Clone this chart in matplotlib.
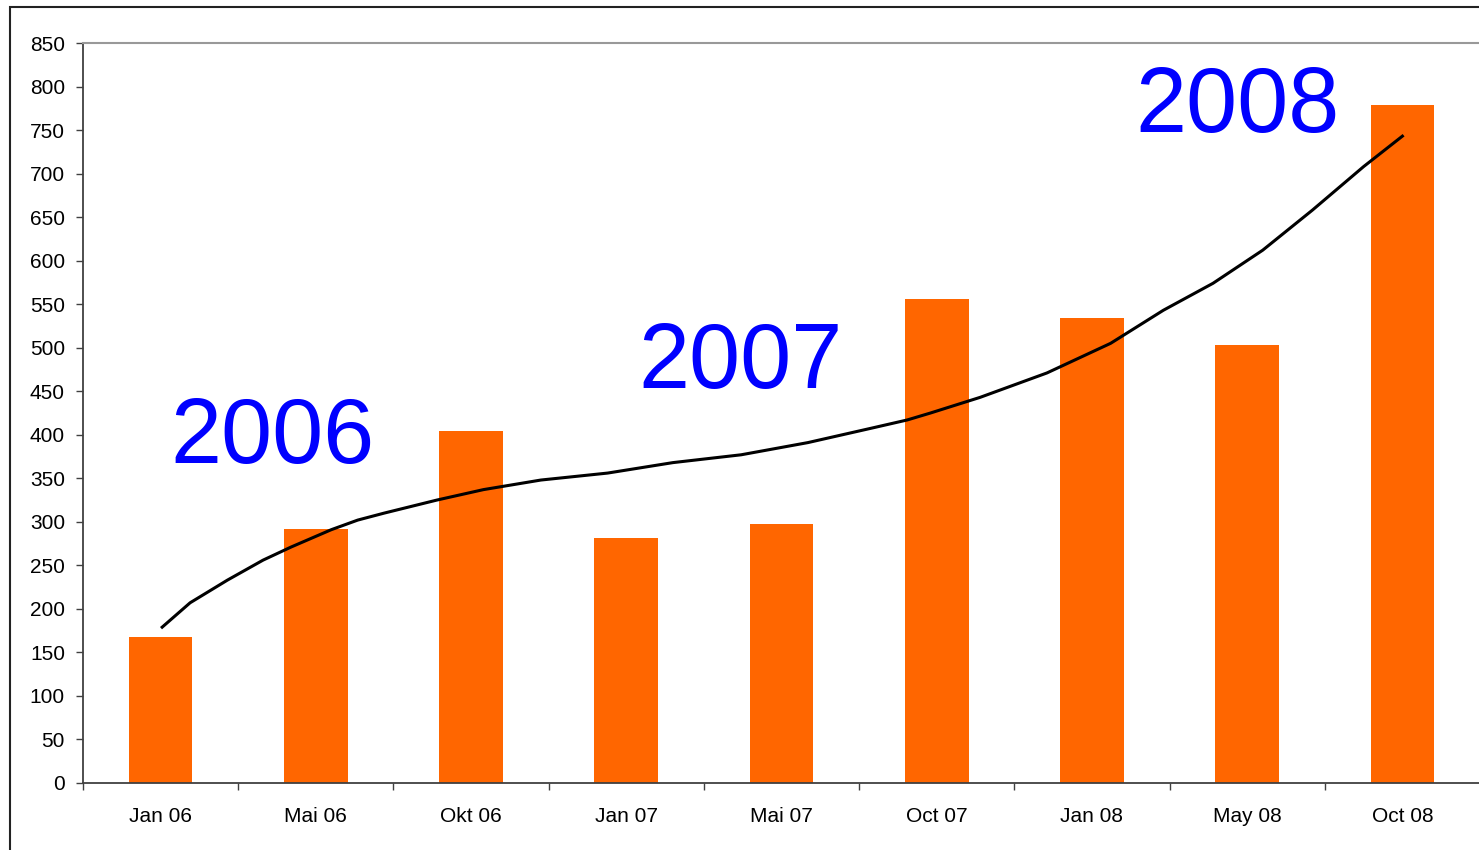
import matplotlib as mpl
import matplotlib.pyplot as plt
import numpy as np
from matplotlib.patches import Rectangle

months = ["Jan 06", "Mai 06", "Okt 06", "Jan 07", "Mai 07",
          "Oct 07", "Jan 08", "May 08", "Oct 08"]
bar_values = [168, 292, 404, 281, 298, 556, 534, 503, 779]

# trend line (x in category units)
trend_x = [0.01, 0.19, 0.43, 0.66, 0.84, 1.10, 1.27, 1.44, 1.78, 2.08,
           2.45, 2.88, 3.30, 3.74, 4.17, 4.59, 4.81, 4.96, 5.28, 5.71,
           6.12, 6.46, 6.78, 7.10, 7.42, 7.75, 8.00]
trend_y = [179, 207, 233, 256, 271, 291, 302, 310, 325, 337,
           348, 356, 368, 377, 391, 408, 417, 425, 443, 471,
           505, 543, 574, 612, 658, 708, 743]

years = ["2006", "2007", "2008"]
year_pos = [(0.06, 367), (3.08, 454), (6.28, 748)]

mpl.rcParams["font.family"] = ["Liberation Sans", "DejaVu Sans"]

fig = plt.figure(figsize=(14.79, 8.5), dpi=100)
W, H = 1479, 850
ax = fig.add_axes([83 / W, (H - 783) / H, 1397 / W, 740 / H])

x = np.arange(len(months))
ax.bar(x, bar_values, width=0.41, color="#FF6600", zorder=2)
ax.plot(trend_x, trend_y, color="black", linewidth=2.2, zorder=3)

for (xp, yp), s in zip(year_pos, years):
    ax.text(xp, yp, s, color="#0000FF", fontsize=66, ha="left", va="baseline", zorder=4)

ax.set_xlim(-0.5, len(months) - 0.5)
ax.set_ylim(0, 850)
ax.set_yticks(np.arange(0, 851, 50))
ax.set_xticks(x)
ax.set_xticklabels(months)
ax.set_xticks(np.arange(-0.5, len(months), 1.0), minor=True)
ax.tick_params(axis="x", which="major", length=0, pad=17, labelsize=15)
ax.tick_params(axis="x", which="minor", length=5, width=1, color="#404040", direction="out")
ax.tick_params(axis="y", length=5, width=1, color="#404040", pad=8, labelsize=15)

for side in ["left", "bottom"]:
    ax.spines[side].set_color("#404040")
    ax.spines[side].set_linewidth(1.3)
ax.spines["top"].set_color("#999999")
ax.spines["top"].set_linewidth(1.5)
ax.spines["right"].set_visible(False)

# outer border of the chart area
fig.patches.append(Rectangle((10 / W, -0.1), 1.2, 1 - 7 / H + 0.1,
                             transform=fig.transFigure, fill=False,
                             edgecolor="#222222", linewidth=1.5))

plt.savefig("out.png", dpi=100)
